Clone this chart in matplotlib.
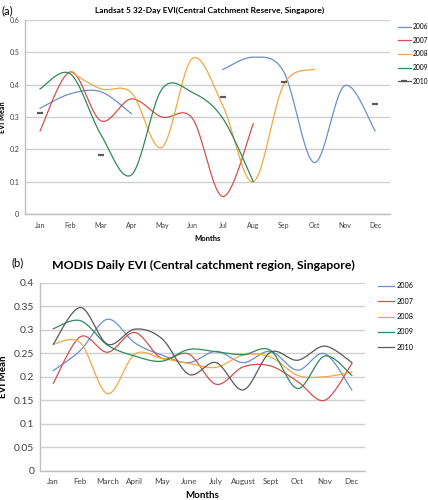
import numpy as np
import matplotlib
matplotlib.use("Agg")
import matplotlib.pyplot as plt

plt.rcParams["font.family"] = ["Lato", "DejaVu Sans"]

nan = np.nan

# --- (a) Landsat 5 32-day EVI ---
months_a = ["Jan", "Feb", "Mar", "Apr", "May", "Jun",
            "Jul", "Aug", "Sep", "Oct", "Nov", "Dec"]
landsat_2006 = [0.327, 0.372, 0.378, 0.310, nan, nan,
                0.447, 0.485, 0.440, 0.159, 0.397, 0.257]
landsat_2007 = [0.257, 0.440, 0.288, 0.356, 0.300, 0.296,
                0.054, 0.279, nan, nan, nan, nan]
landsat_2008 = [nan, 0.440, 0.387, 0.375, 0.206, 0.481,
                0.335, 0.100, 0.400, 0.448, nan, nan]
landsat_2009 = [0.387, 0.433, 0.245, 0.121, 0.386, 0.376,
                0.296, 0.100, nan, nan, nan, nan]
landsat_2010 = [0.311, nan, 0.182, nan, nan, nan,
                0.363, nan, 0.409, nan, nan, 0.339]

# --- (b) MODIS daily EVI ---
months_b = ["Jan", "Feb", "March", "April", "May", "June",
            "July", "August", "Sept", "Oct", "Nov", "Dec"]
modis_2006 = [0.213, 0.256, 0.322, 0.272, 0.246, 0.230,
              0.254, 0.230, 0.254, 0.214, 0.249, 0.172]
modis_2007 = [0.186, 0.285, 0.252, 0.294, 0.239, 0.248,
              0.184, 0.221, 0.223, 0.190, 0.150, 0.228]
modis_2008 = [0.269, 0.272, 0.164, 0.248, 0.239, 0.228,
              0.220, 0.246, 0.242, 0.203, 0.200, 0.210]
modis_2009 = [0.302, 0.319, 0.267, 0.244, 0.233, 0.258,
              0.253, 0.247, 0.256, 0.175, 0.244, 0.203]
modis_2010 = [0.269, 0.347, 0.269, 0.301, 0.281, 0.205,
              0.230, 0.172, 0.252, 0.235, 0.265, 0.230]

years = ["2006", "2007", "2008", "2009", "2010"]
colors = ["#6A8FCC", "#D4504B", "#F2A843", "#2F8A58", "#5A5A5A"]


def smooth(y, n=24):
    """Excel-style smoothed line (Bezier with Catmull-Rom tangents), gaps kept."""
    y = np.asarray(y, dtype=float)
    x = np.arange(len(y), dtype=float)
    xs, ys = [], []
    ok = ~np.isnan(y)
    i = 0
    while i < len(y):
        if not ok[i]:
            i += 1
            continue
        j = i
        while j + 1 < len(y) and ok[j + 1]:
            j += 1
        px, py = x[i:j + 1], y[i:j + 1]
        m = len(px)
        for k in range(m - 1):
            p0 = max(k - 1, 0)
            p3 = min(k + 2, m - 1)
            c1x = px[k] + (px[k + 1] - px[p0]) / 6
            c1y = py[k] + (py[k + 1] - py[p0]) / 6
            c2x = px[k + 1] - (px[p3] - px[k]) / 6
            c2y = py[k + 1] - (py[p3] - py[k]) / 6
            t = np.linspace(0, 1, n)
            a, b, c, d = (1 - t) ** 3, 3 * (1 - t) ** 2 * t, 3 * (1 - t) * t ** 2, t ** 3
            xs.extend(a * px[k] + b * c1x + c * c2x + d * px[k + 1])
            ys.extend(a * py[k] + b * c1y + c * c2y + d * py[k + 1])
        xs.append(nan)
        ys.append(nan)
        i = j + 1
    return np.array(xs), np.array(ys)


def style_axes(ax, months, ylim, yticks, xfs, yfs):
    ax.set_xlim(-0.5, 11.5)
    ax.set_ylim(*ylim)
    ax.set_xticks(range(12))
    ax.set_xticklabels(months, fontsize=xfs, color="#404040")
    ax.set_yticks(yticks)
    ax.set_yticklabels([fmt(v) for v in yticks], fontsize=yfs, color="#404040")
    ax.tick_params(length=0, pad=4)
    ax.grid(axis="y", color="#D0D0D0", linewidth=1.0)
    ax.set_axisbelow(True)
    for s in ["top", "right"]:
        ax.spines[s].set_visible(False)
    for s in ["left", "bottom"]:
        ax.spines[s].set_color("#BFBFBF")
        ax.spines[s].set_linewidth(1.0)


def fmt(v):
    return "0" if v == 0 else ("%g" % round(v, 2))


fig = plt.figure(figsize=(4.28, 5.0), dpi=100)

# Panel (a)
ax1 = fig.add_axes([0.058, 0.572, 0.854, 0.388])
series_a = [landsat_2006, landsat_2007, landsat_2008, landsat_2009]
for yr, col, vals in zip(years[:4], colors[:4], series_a):
    sx, sy = smooth(vals)
    ax1.plot(sx, sy, color=col, linewidth=0.9, label=yr)
ax1.plot(np.arange(12), landsat_2010, linestyle="none", marker="_",
         markersize=5, markeredgewidth=1.6, color=colors[4])
ax1.plot([], [], color=colors[4], linewidth=0.9, marker="_",
         markersize=5, markeredgewidth=1.6, label=years[4])
style_axes(ax1, months_a, (0, 0.6), np.arange(0, 0.61, 0.1), 5, 5)
ax1.tick_params(axis="x", pad=6)
ax1.set_xlabel("Months", fontsize=5.5, fontweight="bold", labelpad=4)
ax1.set_ylabel("EVI Mean", fontsize=5.2, fontweight="bold")
ax1.yaxis.set_label_coords(-0.052, 0.5)
ax1.legend(loc="upper left", bbox_to_anchor=(1.02, 0.985), frameon=False,
           fontsize=4.8, handlelength=2.0, handletextpad=0.2, labelspacing=1.0,
           borderpad=0, borderaxespad=0)
fig.text(0.49, 0.979, "Landsat 5 32-Day EVI(Central Catchment Reserve, Singapore)",
         ha="center", va="center", fontsize=6, fontweight="bold")
fig.text(0.003, 0.979, "(a)", ha="left", va="center", fontsize=8)

# Panel (b)
ax2 = fig.add_axes([0.0928, 0.058, 0.761, 0.377])
series_b = [modis_2006, modis_2007, modis_2008, modis_2009, modis_2010]
for yr, col, vals in zip(years, colors, series_b):
    sx, sy = smooth(vals)
    ax2.plot(sx, sy, color=col, linewidth=0.9, label=yr)
style_axes(ax2, months_b, (0, 0.4), np.arange(0, 0.401, 0.05), 5.8, 7.5)
ax2.tick_params(axis="x", pad=5)
ax2.set_xlabel("Months", fontsize=7, fontweight="bold", labelpad=4)
ax2.set_ylabel("EVI Mean", fontsize=7, fontweight="bold")
ax2.yaxis.set_label_coords(-0.097, 0.5)
ax2.legend(loc="upper left", bbox_to_anchor=(1.039, 1.0), frameon=False,
           fontsize=5.2, handlelength=2.2, handletextpad=0.3, labelspacing=1.15,
           borderpad=0, borderaxespad=0)
fig.text(0.475, 0.47, "MODIS Daily EVI (Central catchment region, Singapore)",
         ha="center", va="center", fontsize=8.8, fontweight="bold")
fig.text(0.028, 0.474, "(b)", ha="left", va="center", fontsize=8)

fig.savefig("out.png", dpi=100)
